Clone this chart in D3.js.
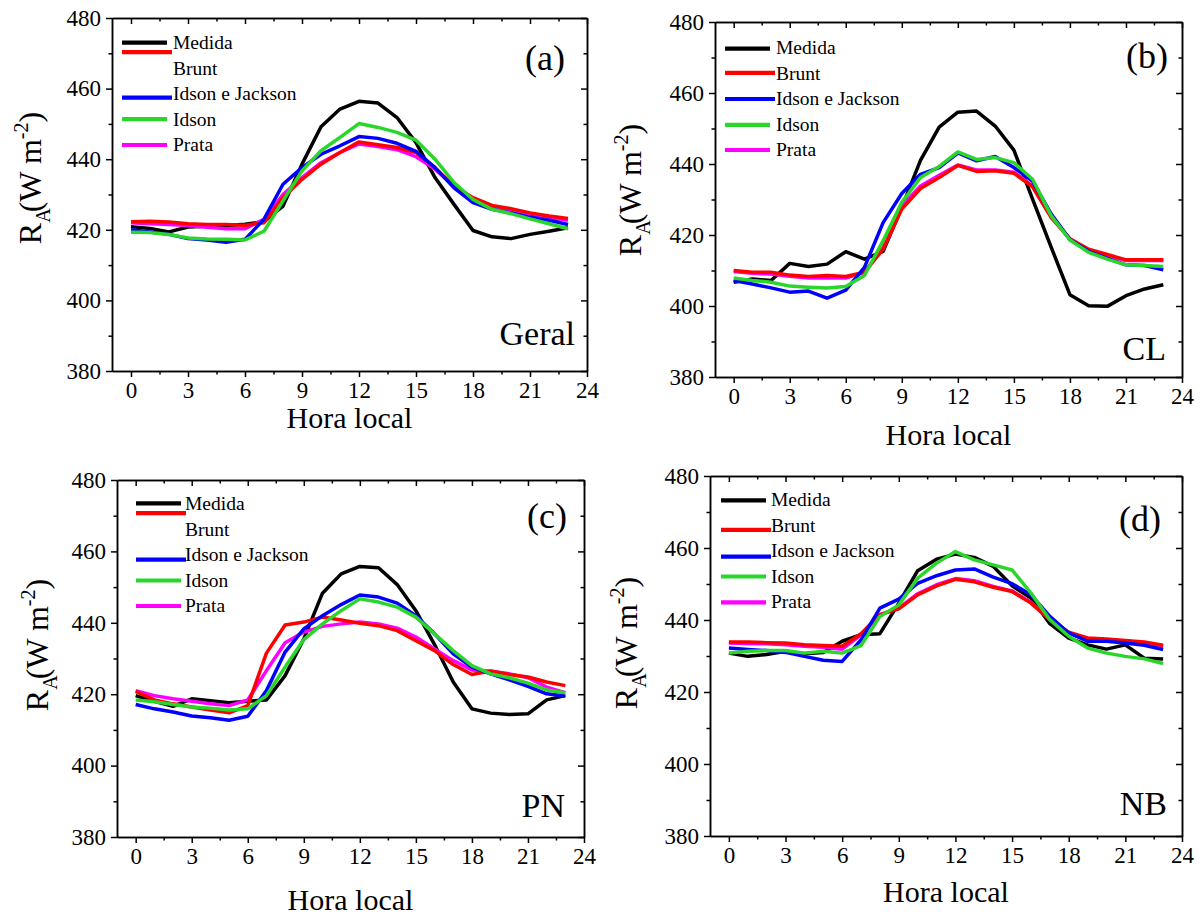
<!DOCTYPE html>
<html>
<head>
<meta charset="utf-8">
<script src="https://cdn.jsdelivr.net/npm/d3@7"></script>
<style>
  body { margin: 0; background: #fff; }
  svg { display: block; }
</style>
</head>
<body>
<div id="plot"></div>
<script>
const FONT = "'Liberation Serif', 'Times New Roman', Times, serif";

// hours of the day
const hours = d3.range(0, 24);
const seriesNames = ["Medida", "Brunt", "Idson e Jackson", "Idson", "Prata"];
const seriesColors = ["#000000", "#ff0000", "#0000ff", "#2bd62b", "#ff00ff"];
const xTicks = [0, 3, 6, 9, 12, 15, 18, 21, 24];
const yTicks = [380, 400, 420, 440, 460, 480];

// (a) Geral
const geralMedida = [420.9, 420.4, 419.4, 420.8, 421.0, 421.2, 421.6, 422.3, 426.7, 438.6, 449.2, 454.2, 456.4, 455.9, 451.8, 444.7, 434.8, 427.2, 419.8, 418.0, 417.5, 418.7, 419.6, 420.6];
const geralBrunt = [422.3, 422.4, 422.2, 421.7, 421.5, 421.5, 421.3, 422.0, 429.1, 434.3, 438.6, 441.9, 444.9, 444.1, 443.3, 441.9, 437.6, 432.4, 429.1, 426.9, 426.0, 424.8, 423.9, 423.2];
const geralIJ = [420.0, 419.4, 418.7, 417.5, 417.1, 416.5, 417.3, 423.0, 432.9, 437.6, 441.4, 443.8, 446.4, 445.9, 444.5, 442.2, 437.6, 431.9, 427.7, 425.8, 424.8, 423.6, 422.7, 421.5];
const geralIdson = [419.3, 419.2, 418.7, 417.7, 417.4, 417.3, 417.1, 419.6, 428.2, 436.7, 442.4, 446.2, 450.1, 449.0, 447.6, 445.4, 440.0, 433.4, 428.6, 425.8, 424.6, 423.1, 421.7, 420.3];
const geralPrata = [422.0, 421.7, 421.5, 421.2, 420.7, 420.3, 420.3, 423.0, 430.0, 434.8, 439.0, 441.9, 444.3, 443.6, 442.7, 440.7, 437.2, 432.4, 428.6, 426.7, 425.5, 424.4, 423.4, 422.7];

// (b) CL
const clMedida = [406.7, 407.6, 407.2, 412.0, 411.1, 411.8, 415.3, 413.2, 415.4, 427.8, 441.0, 450.4, 454.6, 454.9, 450.7, 443.9, 430.1, 416.5, 403.2, 400.1, 399.9, 402.9, 404.8, 406.0];
const clBrunt = [410.0, 409.5, 409.5, 408.7, 408.3, 408.6, 408.3, 409.5, 416.0, 427.3, 433.1, 436.2, 439.6, 437.9, 438.1, 437.4, 433.6, 424.9, 418.9, 416.0, 414.5, 413.0, 413.0, 413.0];
const clIJ = [407.2, 406.2, 405.1, 403.9, 404.2, 402.2, 404.5, 410.9, 423.5, 431.7, 437.1, 439.0, 443.1, 440.9, 442.1, 439.0, 435.2, 425.9, 418.7, 415.4, 413.4, 411.6, 411.4, 410.2];
const clIdson = [407.9, 407.2, 406.7, 405.6, 405.3, 405.1, 405.5, 408.6, 418.4, 429.2, 436.2, 439.3, 443.4, 441.3, 441.8, 440.4, 435.7, 425.4, 418.6, 415.1, 413.2, 411.6, 411.4, 411.1];
const clPrata = [409.7, 409.2, 409.0, 408.4, 407.9, 407.9, 407.9, 409.5, 416.5, 428.2, 433.8, 436.8, 439.7, 438.3, 438.3, 437.7, 433.8, 425.1, 418.9, 415.8, 414.2, 412.8, 412.8, 412.8];

// (c) PN
const pnMedida = [419.6, 418.0, 416.6, 418.7, 418.2, 417.6, 418.0, 418.4, 425.2, 435.5, 448.3, 453.7, 455.8, 455.4, 450.7, 443.4, 433.9, 423.4, 415.9, 414.7, 414.3, 414.5, 418.4, 419.6];
const pnBrunt = [420.8, 418.4, 417.3, 416.4, 415.6, 414.8, 416.8, 431.5, 439.4, 440.2, 441.6, 440.8, 439.9, 439.2, 437.8, 435.0, 432.2, 428.3, 425.5, 426.5, 425.5, 424.8, 423.4, 422.4];
const pnIJ = [417.1, 415.9, 415.0, 413.9, 413.4, 412.7, 413.8, 421.0, 431.8, 438.3, 442.0, 445.1, 447.8, 447.2, 445.5, 442.0, 436.9, 431.3, 427.6, 425.7, 424.0, 422.2, 420.1, 419.5];
const pnIdson = [418.4, 417.9, 417.1, 416.4, 416.1, 415.6, 415.9, 419.6, 427.6, 435.3, 439.7, 443.4, 446.7, 445.8, 444.4, 441.6, 436.9, 432.2, 428.0, 425.7, 424.6, 423.1, 421.2, 420.4];
const pnPrata = [421.0, 419.6, 418.7, 418.0, 417.3, 416.8, 418.4, 426.6, 434.4, 437.4, 439.0, 439.7, 440.2, 439.7, 438.5, 436.0, 432.7, 429.4, 426.8, 426.4, 425.7, 424.6, 422.0, 420.4];

// (d) NB
const nbMedida = [430.8, 429.9, 430.4, 431.3, 430.6, 431.0, 434.1, 435.9, 436.2, 444.7, 453.7, 456.9, 458.3, 457.4, 454.9, 449.5, 446.1, 439.0, 435.0, 433.1, 431.9, 433.1, 429.4, 429.2];
const nbBrunt = [433.9, 433.9, 433.7, 433.6, 433.1, 432.9, 432.7, 436.2, 441.5, 443.1, 447.0, 449.5, 451.3, 450.6, 449.1, 447.9, 444.7, 440.1, 436.6, 435.0, 434.7, 434.3, 433.9, 433.0];
const nbIJ = [432.2, 431.8, 431.5, 431.0, 429.9, 428.8, 428.5, 434.5, 443.3, 445.8, 450.2, 452.3, 453.9, 454.2, 451.9, 450.1, 447.0, 441.0, 436.4, 434.1, 434.1, 433.6, 433.0, 431.8];
const nbIdson = [430.8, 431.3, 431.5, 431.5, 430.8, 431.3, 430.8, 432.9, 441.0, 444.2, 451.6, 455.8, 459.0, 456.7, 455.3, 453.9, 447.5, 440.1, 435.5, 432.2, 430.8, 429.9, 429.2, 427.9];
const nbPrata = [433.6, 433.5, 433.4, 433.1, 432.7, 432.4, 431.9, 435.9, 441.5, 443.3, 447.3, 449.8, 451.5, 450.9, 449.3, 448.1, 444.9, 440.3, 436.4, 434.5, 434.4, 434.2, 433.6, 432.7];

// panel layout (pixel boxes, label spots, legend quirks of the original)
const panels = [
  { tag: "(a)", site: "Geral", left: 112, top: 18, right: 587, bottom: 371,
    series: [geralMedida, geralBrunt, geralIJ, geralIdson, geralPrata],
    tagX: 565, tagY: 70, siteX: 575, siteY: 345, xTitleY: 428, yTitleX: 41, yTitleY: 178,
    legX: 10, legTextX: 61, legY: 31, legLineDy: [-6.3, -22.3, -2.3, -6.3, -6] },
  { tag: "(b)", site: "CL", left: 715, top: 22, right: 1182, bottom: 377,
    series: [clMedida, clBrunt, clIJ, clIdson, clPrata],
    tagX: 1168, tagY: 68, siteX: 1166, siteY: 360, xTitleY: 445, yTitleX: 641, yTitleY: 190,
    legX: 10, legTextX: 61, legY: 32, legLineDy: [-5.3, -6.7, -6, -5.7, -6] },
  { tag: "(c)", site: "PN", left: 117, top: 480, right: 584, bottom: 837,
    series: [pnMedida, pnBrunt, pnIJ, pnIdson, pnPrata],
    tagX: 567, tagY: 528, siteX: 565, siteY: 817, xTitleY: 910, yTitleX: 48, yTitleY: 645,
    legX: 19, legTextX: 68, legY: 30, legLineDy: [-6.7, -22.3, -1.4, -6, -6] },
  { tag: "(d)", site: "NB", left: 710, top: 476, right: 1182, bottom: 836,
    series: [nbMedida, nbBrunt, nbIJ, nbIdson, nbPrata],
    tagX: 1161, tagY: 531, siteX: 1167, siteY: 815, xTitleY: 902, yTitleX: 637, yTitleY: 643,
    legX: 11, legTextX: 61, legY: 30, legLineDy: [-5.7, -1.7, -0.4, -6, -5.6] }
];

// draw order: measured first, then the models
const drawOrder = [0, 4, 1, 2, 3];
const legendLineLen = [45, 50, 50, 45, 45];

var svg = d3.select("div#plot")
      .append("svg")
      .attr("width", 1204)
      .attr("height", 918);

panels.forEach(function(p) {
  var x = d3.scaleLinear().domain([-1, 24]).range([p.left, p.right]);
  var y = d3.scaleLinear().domain([380, 480]).range([p.bottom, p.top]);
  var g = svg.append("g");

  var xMinor = d3.range(0, 24.1, 1.5).filter(d => d % 3 !== 0);
  var yMinor = [390, 410, 430, 450, 470];

  function style(sel) {
    sel.attr("font-family", null).attr("font-size", null);
    sel.selectAll("path, line").attr("stroke", "#000").attr("stroke-width", 1.5);
    sel.selectAll("text")
      .style("font-family", FONT)
      .style("font-size", "23px")
      .attr("fill", "#000");
  }

  // bottom
  g.append("g").attr("transform", "translate(0," + p.bottom + ")")
    .call(d3.axisBottom(x).tickValues(xTicks).tickSize(6).tickSizeOuter(0).tickPadding(5)).call(style);
  g.append("g").attr("transform", "translate(0," + p.bottom + ")")
    .call(d3.axisBottom(x).tickValues(xMinor).tickSize(3.5).tickSizeOuter(0).tickFormat("")).call(style);
  // top (ticks inward)
  g.append("g").attr("transform", "translate(0," + p.top + ")")
    .call(d3.axisBottom(x).tickValues(xTicks).tickSize(6).tickSizeOuter(0).tickFormat("")).call(style);
  g.append("g").attr("transform", "translate(0," + p.top + ")")
    .call(d3.axisBottom(x).tickValues(xMinor).tickSize(3.5).tickSizeOuter(0).tickFormat("")).call(style);
  // left
  g.append("g").attr("transform", "translate(" + p.left + ",0)")
    .call(d3.axisLeft(y).tickValues(yTicks).tickSize(6).tickSizeOuter(0).tickPadding(5)).call(style);
  g.append("g").attr("transform", "translate(" + p.left + ",0)")
    .call(d3.axisLeft(y).tickValues(yMinor).tickSize(3.5).tickSizeOuter(0).tickFormat("")).call(style);
  // right (ticks inward)
  g.append("g").attr("transform", "translate(" + p.right + ",0)")
    .call(d3.axisLeft(y).tickValues(yTicks).tickSize(6).tickSizeOuter(0).tickFormat("")).call(style);
  g.append("g").attr("transform", "translate(" + p.right + ",0)")
    .call(d3.axisLeft(y).tickValues(yMinor).tickSize(3.5).tickSizeOuter(0).tickFormat("")).call(style);

  var line = d3.line()
    .x(function(d, i) { return x(hours[i]); })
    .y(function(d) { return y(d); });

  g.selectAll(".serie")
    .data(drawOrder)
    .enter().append("path")
    .attr("class", "serie")
    .attr("d", function(k) { return line(p.series[k]); })
    .attr("fill", "none")
    .attr("stroke", function(k) { return seriesColors[k]; })
    .attr("stroke-width", 3.5)
    .attr("stroke-linejoin", "round");

  // legend
  var leg = g.append("g").attr("transform", "translate(" + p.left + "," + p.top + ")");
  leg.selectAll(".legline")
    .data(seriesNames)
    .enter().append("line")
    .attr("class", "legline")
    .attr("x1", p.legX)
    .attr("x2", function(d, i) { return p.legX + legendLineLen[i]; })
    .attr("y1", function(d, i) { return p.legY + i * 25.5 + p.legLineDy[i]; })
    .attr("y2", function(d, i) { return p.legY + i * 25.5 + p.legLineDy[i]; })
    .attr("stroke", function(d, i) { return seriesColors[i]; })
    .attr("stroke-width", 4.2);
  leg.selectAll(".legtext")
    .data(seriesNames)
    .enter().append("text")
    .attr("class", "legtext")
    .attr("x", p.legTextX)
    .attr("y", function(d, i) { return p.legY + i * 25.5; })
    .style("font-family", FONT)
    .style("font-size", "19.5px")
    .text(function(d) { return d; });

  // panel tag and site name
  g.append("text").attr("x", p.tagX).attr("y", p.tagY)
    .attr("text-anchor", "end")
    .style("font-family", FONT).style("font-size", "36px")
    .text(p.tag);
  g.append("text").attr("x", p.siteX).attr("y", p.siteY)
    .attr("text-anchor", "end")
    .style("font-family", FONT).style("font-size", "34px")
    .text(p.site);

  // axis titles
  g.append("text")
    .attr("x", (p.left + p.right) / 2)
    .attr("y", p.xTitleY)
    .attr("text-anchor", "middle")
    .style("font-family", FONT).style("font-size", "30px")
    .text("Hora local");

  var yt = g.append("text")
    .attr("transform", "translate(" + p.yTitleX + "," + p.yTitleY + ") rotate(-90)")
    .attr("text-anchor", "middle")
    .style("font-family", FONT).style("font-size", "32px");
  yt.append("tspan").text("R");
  yt.append("tspan").style("font-size", "20px").attr("dy", 9).text("A");
  yt.append("tspan").attr("dy", -9).attr("dx", -4).text("(W m");
  yt.append("tspan").style("font-size", "20px").attr("dy", -13).text("-2");
  yt.append("tspan").attr("dy", 13).text(")");
});
</script>
</body>
</html>
